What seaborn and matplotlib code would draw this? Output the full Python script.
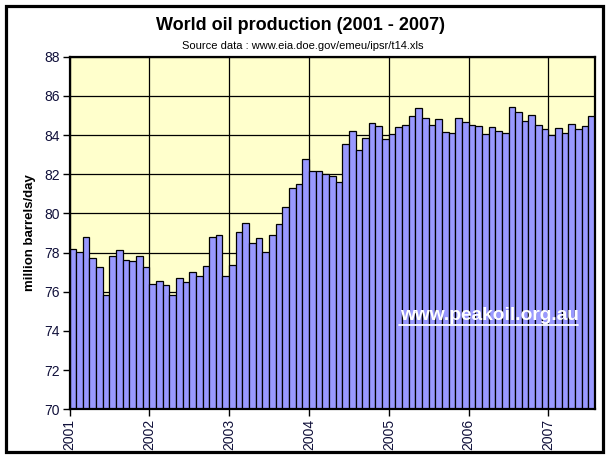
import matplotlib
matplotlib.use("Agg")
import matplotlib.pyplot as plt
from matplotlib.patches import Rectangle
from matplotlib.lines import Line2D
import seaborn as sns
import pandas as pd

years = ["2001", "2002", "2003", "2004", "2005", "2006", "2007"]
v2001 = [78.20, 78.05, 78.82, 77.74, 77.29, 75.86, 77.85, 78.15, 77.64, 77.59, 77.85, 77.29]
v2002 = [76.42, 76.54, 76.37, 75.86, 76.72, 76.52, 77.03, 76.83, 77.34, 78.82, 78.92, 76.83]
v2003 = [77.37, 79.07, 79.53, 78.51, 78.73, 78.05, 78.92, 79.48, 80.35, 81.32, 81.48, 82.76]
v2004 = [82.18, 82.18, 82.00, 81.89, 81.60, 83.57, 84.19, 83.22, 83.83, 84.60, 84.46, 83.81]
v2005 = [84.04, 84.40, 84.52, 84.96, 85.37, 84.86, 84.52, 84.81, 84.14, 84.09, 84.86, 84.66]
v2006 = [84.52, 84.45, 84.04, 84.40, 84.20, 84.09, 85.42, 85.17, 84.71, 85.01, 84.52, 84.30]
v2007 = [83.99, 84.35, 84.09, 84.55, 84.30, 84.45, 84.96]
y_ticks = [70, 72, 74, 76, 78, 80, 82, 84, 86, 88]

series = [v2001, v2002, v2003, v2004, v2005, v2006, v2007]
months, values = [], []
for yr, vals in zip(years, series):
    for m, v in enumerate(vals):
        months.append(f"{yr}-{m+1:02d}")
        values.append(v)
df = pd.DataFrame({"month": months, "production": values})

sns.set_style("white")
plt.rcParams["font.family"] = ["Liberation Sans", "DejaVu Sans"]
plt.rcParams["text.color"] = "black"
plt.rcParams["axes.labelcolor"] = "black"

fig = plt.figure(figsize=(6.11, 4.57), dpi=100)
ax = fig.add_axes([69.5 / 611, 47.7 / 457, 525.5 / 611, 352.5 / 457])
ax.set_facecolor("#FFFFCC")

sns.barplot(data=df, x="month", y="production", ax=ax, color="#9999FF",
            saturation=1, width=1.0, edgecolor="black", linewidth=0.9, zorder=3)

n = len(values)
ax.set_xlim(-0.5, n - 0.5)
ax.set_ylim(70, 88)
ax.set_yticks(y_ticks)
ax.set_yticklabels([str(t) for t in y_ticks], fontsize=10, color="#10103a")
year_pos = [-0.5 + 12 * i for i in range(len(years))]
ax.set_xticks(year_pos)
ax.set_xticklabels(years, rotation=90, fontsize=10, color="#10103a", va="top")
ax.tick_params(axis="both", direction="out", length=5, width=1, color="black",
               bottom=True, left=True, pad=2)

ax.grid(True, color="black", linewidth=0.9, zorder=0)
ax.set_axisbelow(True)
for s in ax.spines.values():
    s.set_visible(True)
    s.set_color("black")
    s.set_linewidth(1.6)
    s.set_zorder(5)

ax.set_xlabel("")
ax.set_ylabel("million barrels/day", fontsize=9.5, fontweight="bold", labelpad=6,
              color="black")

fig.text(300 / 611, 1 - 25 / 457, "World oil production (2001 - 2007)",
         ha="center", va="center", fontsize=13, fontweight="bold", color="black")
fig.text(303 / 611, 1 - 46 / 457, "Source data : www.eia.doe.gov/emeu/ipsr/t14.xls",
         ha="center", va="center", fontsize=8, color="black")

fig.text(489 / 611, 1 - 316 / 457, "www.peakoil.org.au", ha="center", va="center",
         fontsize=13.8, fontweight="bold", color="white", zorder=10)
fig.add_artist(Line2D([399 / 611, 578 / 611], [1 - 324.5 / 457, 1 - 324.5 / 457],
                      transform=fig.transFigure, color="white", linewidth=1.3, zorder=10))

fig.add_artist(Rectangle((5.5 / 611, 5.5 / 457), 597 / 611, 445.5 / 457,
                         transform=fig.transFigure, fill=False, edgecolor="black",
                         linewidth=2.3, zorder=20))

fig.savefig("out.png", dpi=100)
